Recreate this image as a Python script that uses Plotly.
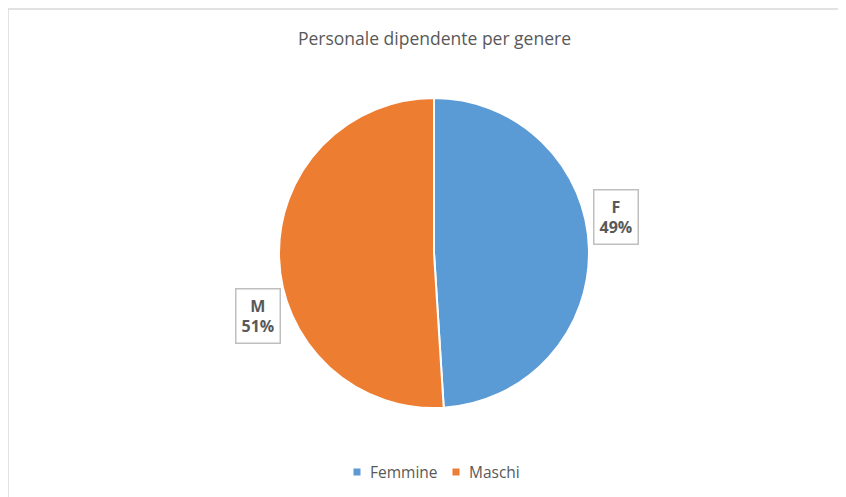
import plotly.graph_objects as go

categories = ["Femmine", "Maschi"]
short_labels = ["F", "M"]
values = [49, 51]
colors = ["#5B9BD5", "#ED7D31"]
title = "Personale dipendente per genere"

# the page body has an 8px margin; work in figure coordinates = screen - 8
OFF = 8
W, H = 846 - OFF, 497 - OFF


def fx(px):
    return (px - OFF) / W


def fy(py):
    return 1 - (py - OFF) / H


fig = go.Figure()
fig.add_trace(go.Pie(
    labels=categories,
    values=values,
    sort=False,
    direction="clockwise",
    rotation=0,
    marker=dict(colors=colors, line=dict(color="white", width=2)),
    textinfo="none",
    hoverinfo="label+percent",
    showlegend=False,
    domain=dict(x=[fx(434 - 155), fx(434 + 155)], y=[fy(408), fy(98)]),
))

# data labels (boxed, outside)
label_pos = [(616, 217), (258, 316)]
for (px, py), lab, v in zip(label_pos, short_labels, values):
    pct = round(100 * v / sum(values))
    fig.add_annotation(
        x=fx(px), y=fy(py), xref="paper", yref="paper",
        xanchor="center", yanchor="middle",
        text=f"<b>{lab}</b><br><b>{pct}%</b>", showarrow=False,
        font=dict(family="Open Sans", size=16, color="#595959"),
        bordercolor="#BFBFBF", borderwidth=1.5, borderpad=5, bgcolor="white",
        align="center",
    )

fig.add_annotation(
    x=fx(434), y=fy(38), xref="paper", yref="paper",
    xanchor="center", yanchor="middle",
    text=title, showarrow=False,
    font=dict(family="Open Sans", size=17.5, color="#595959"),
)

# legend (Excel style: small square + label)
legend_x = [357, 456]
for cx, cat, col in zip(legend_x, categories, colors):
    fig.add_shape(type="rect", xref="paper", yref="paper",
                  x0=fx(cx - 3.5), x1=fx(cx + 3.5), y0=fy(472 + 3.5), y1=fy(472 - 3.5),
                  fillcolor=col, line=dict(width=0))
    fig.add_annotation(
        x=fx(cx + 11), y=fy(472), xref="paper", yref="paper",
        xanchor="left", yanchor="middle",
        text=cat, showarrow=False,
        font=dict(family="Open Sans", size=15.5, color="#595959"),
    )

# chart border (top and left edges visible)
fig.add_shape(type="line", xref="paper", yref="paper",
              x0=fx(6), x1=1, y0=fy(9), y1=fy(9),
              line=dict(color="#D9D9D9", width=1.5))
fig.add_shape(type="line", xref="paper", yref="paper",
              x0=fx(8), x1=fx(8), y0=0, y1=fy(9),
              line=dict(color="#D9D9D9", width=1.5))

fig.update_layout(
    width=W, height=H,
    margin=dict(l=0, r=0, t=0, b=0),
    paper_bgcolor="white",
    plot_bgcolor="white",
    showlegend=False,
)

fig.write_html("out.html")
